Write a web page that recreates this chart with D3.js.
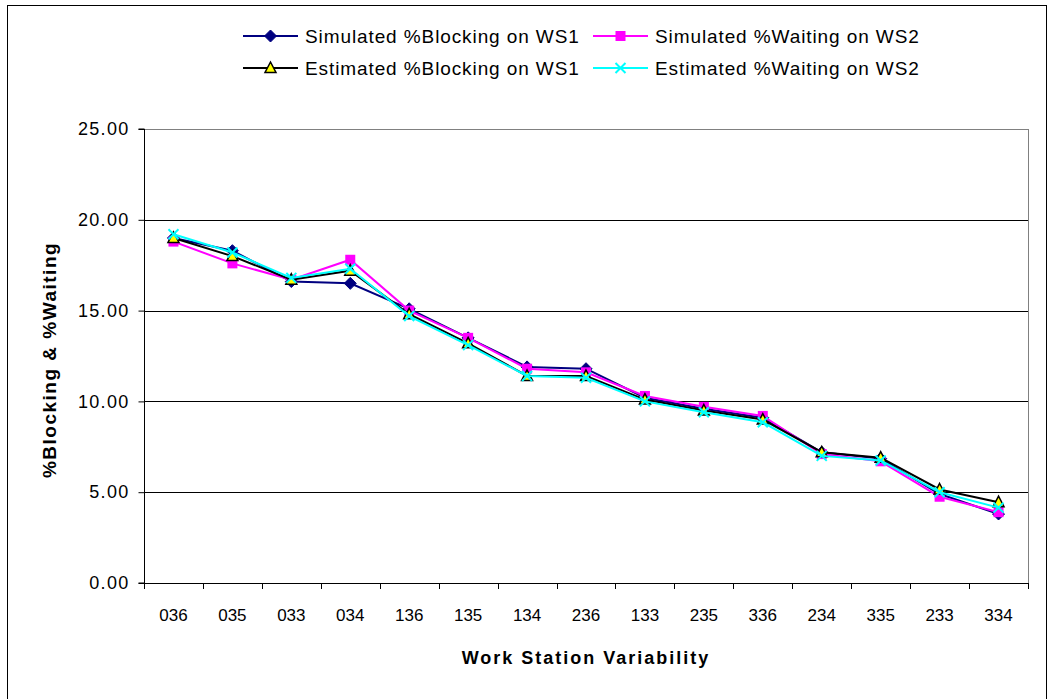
<!DOCTYPE html>
<html><head><meta charset="utf-8">
<script src="https://cdn.jsdelivr.net/npm/d3@7"></script>
<style>body{margin:0;background:#fff}svg{display:block}text{font-family:"Liberation Sans",Arial,sans-serif}</style>
</head><body>
<svg id="c" width="1048" height="699"></svg>
<script>
const categories = ["036","035","033","034","136","135","134","236","133","235","336","234","335","233","334"];
const simBlocking = [19.0,18.3,16.6,16.5,15.1,13.5,11.9,11.8,10.2,9.6,9.1,7.2,6.85,4.9,3.8];
const simWaiting  = [18.8,17.6,16.7,17.8,15.0,13.5,11.8,11.6,10.3,9.7,9.2,7.1,6.7,4.75,3.9];
const estBlocking = [19.0,18.0,16.7,17.2,14.8,13.2,11.4,11.4,10.1,9.5,9.0,7.2,6.9,5.15,4.45];
const estWaiting  = [19.2,18.2,16.8,17.3,14.7,13.1,11.4,11.3,10.0,9.4,8.85,7.0,6.75,5.0,4.15];
const yTicks = [0,5,10,15,20,25];
const seriesNames = ["Simulated %Blocking on WS1","Simulated %Waiting on WS2","Estimated %Blocking on WS1","Estimated %Waiting on WS2"];

const series = [
  {name:seriesNames[0], values:simBlocking, color:"#000080", marker:"diamond"},
  {name:seriesNames[1], values:simWaiting,  color:"#FF00FF", marker:"square"},
  {name:seriesNames[2], values:estBlocking, color:"#000000", marker:"triangle"},
  {name:seriesNames[3], values:estWaiting,  color:"#00FFFF", marker:"x"}
];

const svg = d3.select("#c");
const L=144, R=1028, T=129, B=583;
svg.append("rect").attr("x",7.5).attr("y",5.5).attr("width",1039).attr("height",720)
  .attr("fill","none").attr("stroke","#000").attr("stroke-width",1);

const x = d3.scaleBand().domain(categories).range([L,R]);
const y = d3.scaleLinear().domain([0,25]).range([B,T]);

// gridlines
svg.append("g").selectAll("line").data(yTicks.filter(d=>d>0)).join("line")
  .attr("x1",L).attr("x2",R).attr("y1",d=>Math.round(y(d))+0.5).attr("y2",d=>Math.round(y(d))+0.5)
  .attr("stroke",d=>d===25?"#808080":"#000").attr("stroke-width",1);
svg.append("line").attr("x1",R+0.5).attr("x2",R+0.5).attr("y1",T).attr("y2",B).attr("stroke","#808080");

// axes
const yAxis = d3.axisLeft(y).tickValues(yTicks).tickFormat(d3.format(".2f")).tickSize(6).tickPadding(9);
const gy = svg.append("g").attr("transform",`translate(${L+0.5},0)`).call(yAxis);
gy.select(".domain").attr("stroke","#000").attr("d",`M-6,${B}H0V${T}H-6`);
gy.selectAll("text").attr("font-size",18).attr("letter-spacing",1.3).attr("fill","#000");

const xAxis = d3.axisBottom(x).tickSize(0).tickPadding(25);
const gx = svg.append("g").attr("transform",`translate(0,${B+0.5})`).call(xAxis);
gx.select(".domain").attr("stroke","#000").attr("d",`M${L},0H${R}`);
gx.selectAll("text").attr("font-size",17).attr("fill","#000");
// category boundary ticks
svg.append("g").selectAll("line").data(categories.concat(["_end"])).join("line")
  .attr("x1",(d,i)=>Math.round(L+i*x.bandwidth())+0.5).attr("x2",(d,i)=>Math.round(L+i*x.bandwidth())+0.5)
  .attr("y1",B).attr("y2",B+6).attr("stroke","#000");

// titles
svg.append("text").attr("x",(L+R)/2).attr("y",664).attr("text-anchor","middle")
  .attr("font-size",18).attr("letter-spacing",2).attr("font-weight","bold").text("Work Station Variability");
svg.append("text").attr("transform",`translate(56,${(T+B)/2+4}) rotate(-90)`).attr("text-anchor","middle")
  .attr("font-size",19).attr("letter-spacing",1.5).attr("font-weight","bold").text("%Blocking & %Waiting");

function drawMarker(g, type, color, cx, cy){
  if(type==="diamond"){
    g.append("path").attr("d",`M${cx},${cy-6}L${cx+6},${cy}L${cx},${cy+6}L${cx-6},${cy}Z`)
     .attr("fill",color).attr("stroke",color);
  } else if(type==="square"){
    g.append("rect").attr("x",cx-5).attr("y",cy-5).attr("width",10).attr("height",10).attr("fill",color);
  } else if(type==="triangle"){
    g.append("path").attr("d",`M${cx},${cy-6}L${cx+5.5},${cy+4.5}L${cx-5.5},${cy+4.5}Z`)
     .attr("fill","#FFFF00").attr("stroke","#000").attr("stroke-width",1.5);
  } else {
    g.append("path").attr("d",`M${cx-5},${cy-5}L${cx+5},${cy+5}M${cx-5},${cy+5}L${cx+5},${cy-5}`)
     .attr("stroke",color).attr("stroke-width",2);
  }
}

const line = d3.line().x((d,i)=>x(categories[i])+x.bandwidth()/2).y(d=>y(d));
series.forEach(s=>{
  const g = svg.append("g");
  g.append("path").attr("d",line(s.values)).attr("fill","none").attr("stroke",s.color).attr("stroke-width",2);
  s.values.forEach((v,i)=>drawMarker(g,s.marker,s.color,x(categories[i])+x.bandwidth()/2,y(v)));
});

// legend
const legPos = [[243,36],[593,36],[243,68],[593,68]];
series.forEach((s,i)=>{
  const [lx,ly]=legPos[i];
  const g = svg.append("g");
  g.append("line").attr("x1",lx).attr("x2",lx+55).attr("y1",ly).attr("y2",ly).attr("stroke",s.color).attr("stroke-width",2);
  drawMarker(g,s.marker,s.color,lx+27.5,ly);
  g.append("text").attr("x",lx+62).attr("y",ly+7).attr("font-size",19).attr("letter-spacing",0.9).text(s.name);
});
</script>
</body></html>
